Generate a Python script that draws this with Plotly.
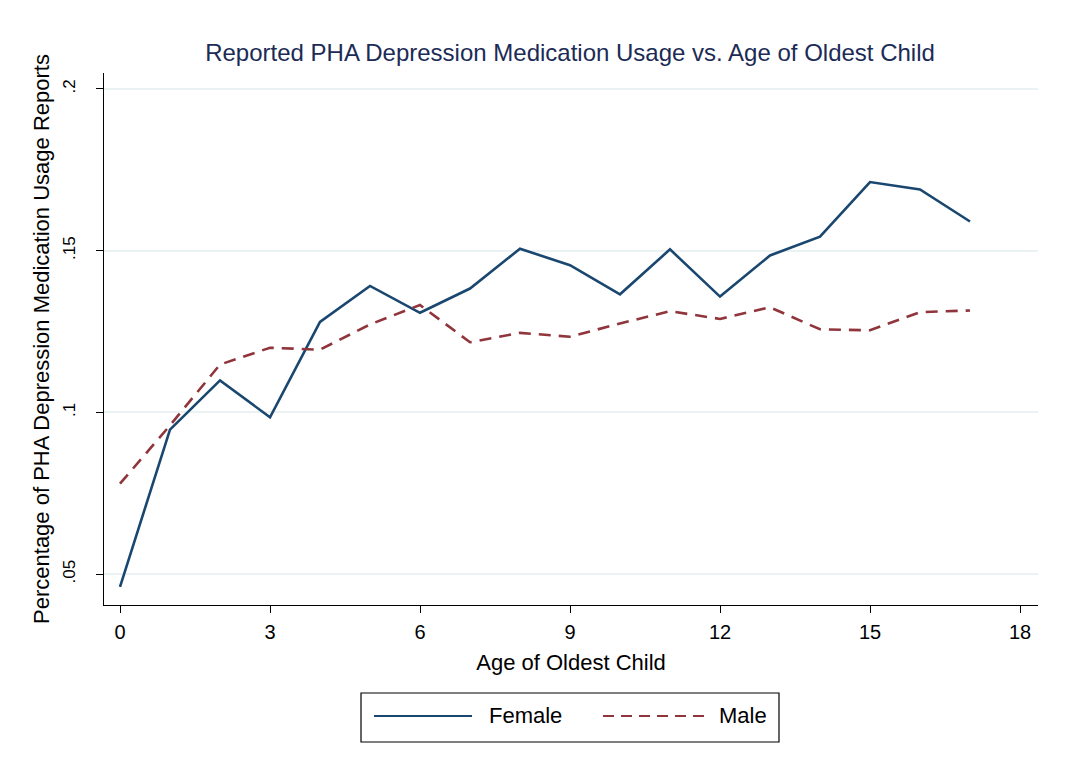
import plotly.graph_objects as go

ages = list(range(18))
female = [0.0461, 0.0947, 0.1099, 0.0985, 0.1280, 0.1391, 0.1308, 0.1383, 0.1506,
          0.1455, 0.1365, 0.1504, 0.1358, 0.1485, 0.1543, 0.1712, 0.1689, 0.1590]
male = [0.0780, 0.0960, 0.1148, 0.1200, 0.1194, 0.1272, 0.1332, 0.1217, 0.1246,
        0.1234, 0.1275, 0.1313, 0.1289, 0.1325, 0.1257, 0.1254, 0.1310, 0.1315]
x_ticks = [0, 3, 6, 9, 12, 15, 18]
y_ticks = [0.05, 0.10, 0.15, 0.20]
y_tick_labels = [".05", ".1", ".15", ".2"]

NAVY = "#1a476f"
MAROON = "#90353b"
FONT = "Liberation Sans, Arial, sans-serif"

# page body has an 8px margin; figure is sized/offset to compensate
OFF = 8
FW, FH = 1050, 760
pl, pr, pt, pb = 104, 1038, 73, 605  # plot area in window pixels

fig = go.Figure()
fig.add_trace(go.Scatter(x=ages, y=female, mode="lines", name="Female",
                         line=dict(color=NAVY, width=2.6)))
fig.add_trace(go.Scatter(x=ages, y=male, mode="lines", name="Male",
                         line=dict(color=MAROON, width=2.6, dash="12px,8px")))

fig.update_layout(
    width=FW, height=FH,
    paper_bgcolor="white", plot_bgcolor="white",
    margin=dict(l=pl - OFF, r=FW - (pr - OFF), t=pt - OFF, b=FH - (pb - OFF)),
    showlegend=False,
    font=dict(family=FONT, color="black", size=20),
    title=dict(text="Reported PHA Depression Medication Usage vs. Age of Oldest Child",
               x=(570 - OFF) / FW, xanchor="center", y=1 - (53 - OFF) / FH, yanchor="middle",
               font=dict(size=24, color="#1c2b56", family=FONT)),
)
fig.update_xaxes(range=[-0.32, 18.36], tickvals=x_ticks, ticks="outside", ticklen=7,
                 tickcolor="black", showline=True, linecolor="black", linewidth=1.2,
                 showgrid=False, zeroline=False,
                 tickfont=dict(size=20), ticklabelstandoff=2,
                 title=dict(text="Age of Oldest Child", font=dict(size=22), standoff=12))
fig.update_yaxes(range=[0.0405, 0.2049], tickvals=y_ticks, ticktext=y_tick_labels,
                 tickangle=-90, ticks="outside", ticklen=7, tickcolor="black",
                 showline=True, linecolor="black", linewidth=1.2,
                 showgrid=True, gridcolor="#eaf2f3", gridwidth=2, zeroline=False,
                 tickfont=dict(size=17), ticklabelstandoff=14,
                 title=dict(text="Percentage of PHA Depression Medication Usage Reports",
                            font=dict(size=22), standoff=4))

def ppx(x):
    return (x - pl) / (pr - pl)
def ppy(y):
    return (pb - y) / (pb - pt)

# legend box
fig.add_shape(type="rect", xref="paper", yref="paper",
              x0=ppx(361), x1=ppx(779), y0=ppy(742), y1=ppy(693),
              line=dict(color="black", width=1.2), fillcolor="white")
fig.add_shape(type="line", xref="paper", yref="paper",
              x0=ppx(374), x1=ppx(472), y0=ppy(716), y1=ppy(716),
              line=dict(color=NAVY, width=2))
fig.add_shape(type="line", xref="paper", yref="paper",
              x0=ppx(603), x1=ppx(704), y0=ppy(716), y1=ppy(716),
              line=dict(color=MAROON, width=2, dash="11px,7px"))
fig.add_annotation(text="Female", xref="paper", yref="paper", x=ppx(487), y=ppy(715),
                   xanchor="left", yanchor="middle", showarrow=False,
                   font=dict(size=22, color="black"))
fig.add_annotation(text="Male", xref="paper", yref="paper", x=ppx(717), y=ppy(715),
                   xanchor="left", yanchor="middle", showarrow=False,
                   font=dict(size=22, color="black"))

fig.write_html("out.html")
